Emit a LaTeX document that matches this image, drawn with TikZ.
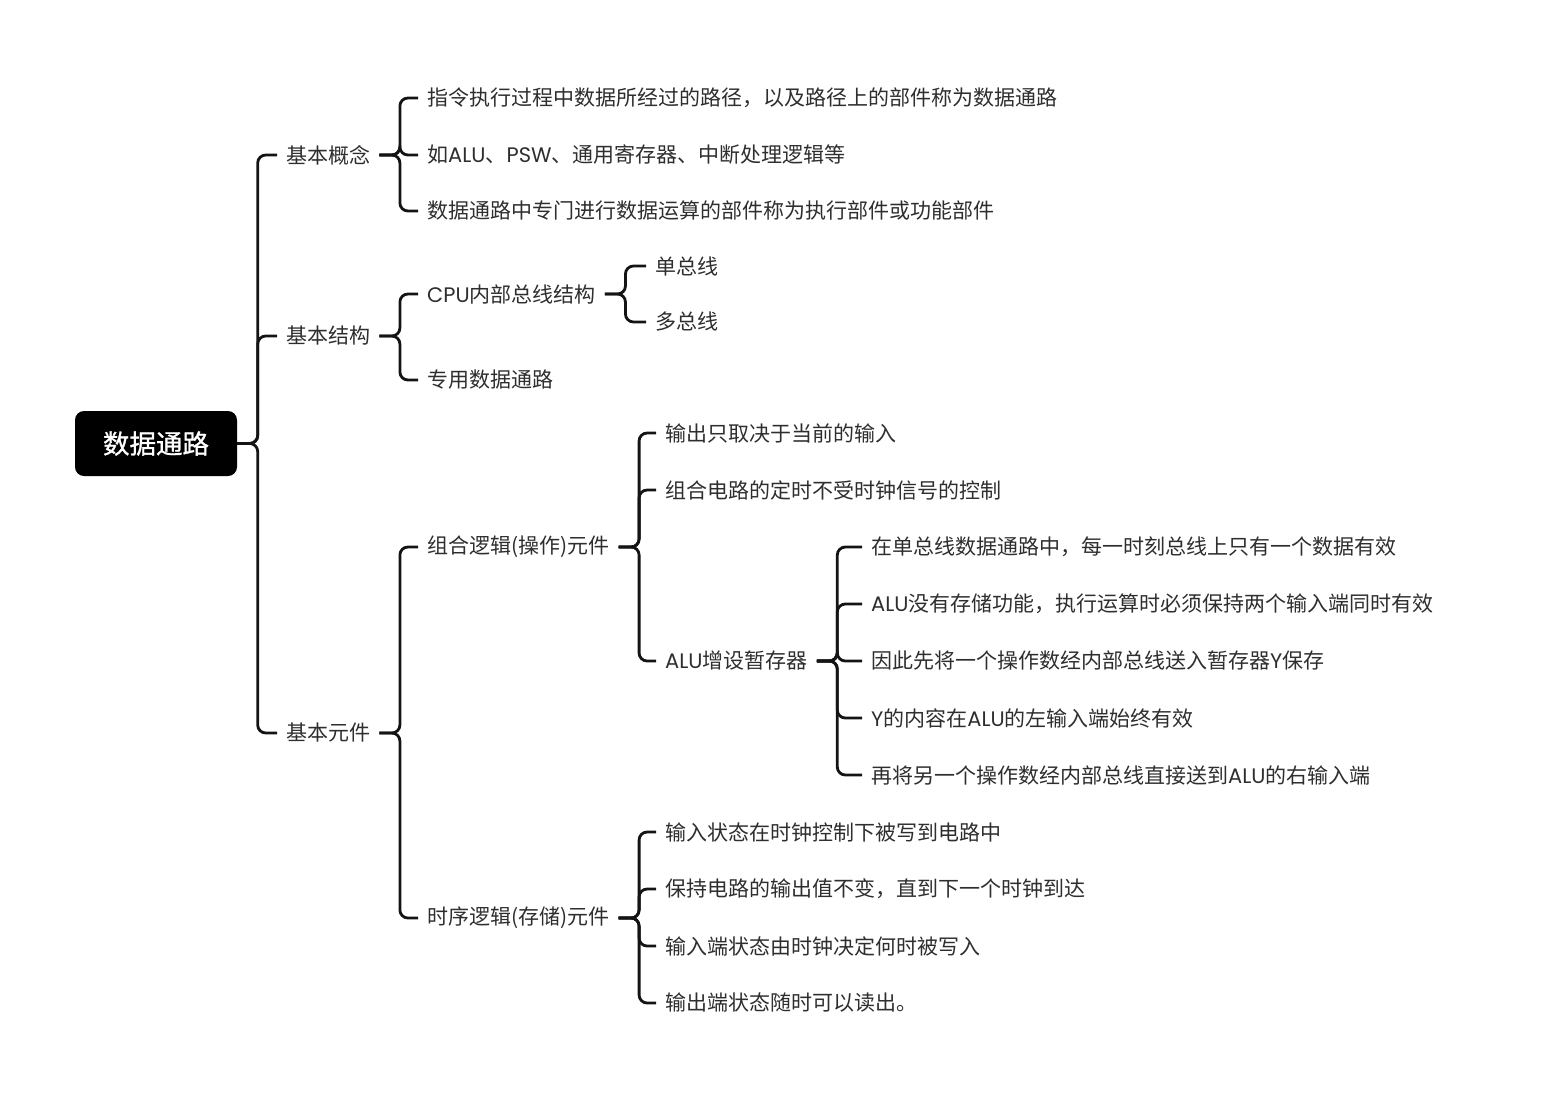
\documentclass[tikz,border=0pt]{standalone}
\usepackage{fontspec}
\setmainfont{Noto Sans CJK SC}
\newfontfamily\lat{Poppins}
\newfontfamily\rootfont[FakeBold=1]{Noto Sans CJK SC}
\definecolor{textc}{HTML}{2E2E2E}
\definecolor{linec}{HTML}{141414}
\tikzset{
  txt/.style={anchor=west, inner xsep=9pt, inner ysep=2pt, text=textc,
    font=\fontsize{21}{25}\selectfont},
  rootbox/.style={fill=black, rounded corners=9pt, minimum width=162pt,
    minimum height=65pt, inner sep=0pt, text=white,
    font=\fontsize{26.5}{30}\rootfont},
  link/.style={line width=2.8pt, draw=linec, rounded corners=8pt}
}
\newcommand{\conn}[2]{\draw[link] (#1.east) -- ++(20.5,0) |- (#2.west);}
\begin{document}
\begin{tikzpicture}[x=1pt,y=-1pt]
\useasboundingbox (0,0) rectangle (1545,1101);
% root
\node[rootbox] (root) at (156,443.5) {数据通路};
% level 1
\node[txt] (a) at (277,155) {基本概念};
\node[txt] (b) at (277,336) {基本结构};
\node[txt] (c) at (277,733) {基本元件};
% level 2
\node[txt] (a1) at (418,98) {指令执行过程中数据所经过的路径，以及路径上的部件称为数据通路};
\node[txt] (a2) at (418,155) {如{\lat ALU}、{\lat PSW}、通用寄存器、中断处理逻辑等};
\node[txt] (a3) at (418,211) {数据通路中专门进行数据运算的部件称为执行部件或功能部件};
\node[txt] (b1) at (418,294) {{\lat CPU}内部总线结构};
\node[txt] (b2) at (418,380) {专用数据通路};
\node[txt] (c1) at (418,547) {组合逻辑(操作)元件};
\node[txt] (c2) at (418,918) {时序逻辑(存储)元件};
% level 3
\node[txt] (b11) at (646,266) {单总线};
\node[txt] (b12) at (646,322) {多总线};
\node[txt] (c11) at (656,433) {输出只取决于当前的输入};
\node[txt] (c12) at (656,490) {组合电路的定时不受时钟信号的控制};
\node[txt] (c13) at (656,661) {{\lat ALU}增设暂存器};
\node[txt] (c21) at (656,832) {输入状态在时钟控制下被写到电路中};
\node[txt] (c22) at (656,889) {保持电路的输出值不变，直到下一个时钟到达};
\node[txt] (c23) at (656,946) {输入端状态由时钟决定何时被写入};
\node[txt] (c24) at (656,1003) {输出端状态随时可以读出。};
% level 4
\node[txt] (d1) at (862,547) {在单总线数据通路中，每一时刻总线上只有一个数据有效};
\node[txt] (d2) at (862,604) {{\lat ALU}没有存储功能，执行运算时必须保持两个输入端同时有效};
\node[txt] (d3) at (862,661) {因此先将一个操作数经内部总线送入暂存器{\lat Y}保存};
\node[txt] (d4) at (862,718) {{\lat Y}的内容在{\lat ALU}的左输入端始终有效};
\node[txt] (d5) at (862,775) {再将另一个操作数经内部总线直接送到{\lat ALU}的右输入端};
% connectors
\foreach \ch in {a,b,c} {\conn{root}{\ch}}
\foreach \ch in {a1,a2,a3} {\conn{a}{\ch}}
\foreach \ch in {b1,b2} {\conn{b}{\ch}}
\foreach \ch in {c1,c2} {\conn{c}{\ch}}
\foreach \ch in {b11,b12} {\conn{b1}{\ch}}
\foreach \ch in {c11,c12,c13} {\conn{c1}{\ch}}
\foreach \ch in {c21,c22,c23,c24} {\conn{c2}{\ch}}
\foreach \ch in {d1,d2,d3,d4,d5} {\conn{c13}{\ch}}
\end{tikzpicture}
\end{document}
